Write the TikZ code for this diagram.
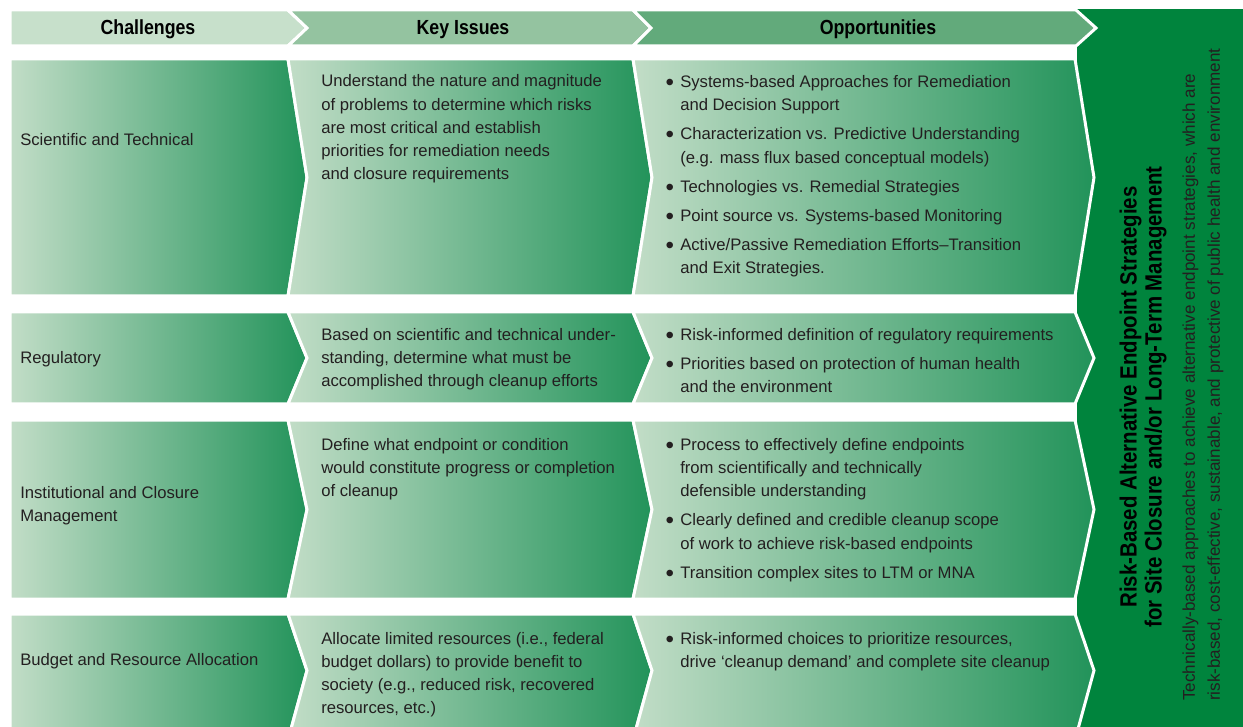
\documentclass[tikz,border=0pt]{standalone}
\usepackage{fontspec}
\setmainfont{Liberation Sans}
\newfontfamily\hdfont{Liberation Sans}[FakeStretch=0.87]
\definecolor{pale}{HTML}{C2DDC7}
\definecolor{deep}{HTML}{22935A}
\definecolor{hA}{HTML}{C7E0CB}
\definecolor{hB}{HTML}{94C3A0}
\definecolor{hC}{HTML}{62AA7B}
\definecolor{panel}{HTML}{00843D}
\definecolor{ink}{HTML}{231F20}
\newcommand\firstl{\rule{0pt}{12pt}}
\newcommand\mybul{\makebox[10.5pt][l]{\hspace*{-0.5pt}\raisebox{-0.17em}{\scalebox{1.45}{\textbullet}}}}
\newcommand\myind{\hspace*{10.5pt}}
\begin{document}
\begin{tikzpicture}[x={(0.75pt,0)}, y={(0,-0.75pt)},
  chev/.style={left color=pale, right color=deep, draw=white, line width=2.25pt},
  hdr/.style={draw=white, line width=2.25pt},
  cell/.style={anchor=north west, inner sep=0pt, align=left, text=ink, font=\fontsize{12.5pt}{17.4pt}\selectfont},
  hdtext/.style={anchor=base, inner sep=0pt, text=black, font=\hdfont\bfseries\fontsize{15.3pt}{18pt}\selectfont},
]
\useasboundingbox (0,0) rectangle (1243,727);
% right panel
\fill[panel] (1077,9) rectangle (1250,740);
% header
\path[hdr, fill=hA] (10,10) -- (288,10) -- (307,28) -- (288,46) -- (10,46) -- cycle;
\path[hdr, fill=hB] (288,10) -- (633,10) -- (651,28) -- (633,46) -- (288,46) -- (307,28) -- cycle;
\path[hdr, fill=hC] (633,10) -- (1076,10) -- (1096,28) -- (1076,46) -- (633,46) -- (651,28) -- cycle;
\node[hdtext] (hc) at (148,35) {Challenges};
\node[hdtext] (hk) at (463,35) {Key Issues};
\node[hdtext] (ho) at (878,35) {Opportunities};
% rows
\foreach \t/\b/\m in {59/296/177.5, 312/404/358, 420/599/509.5, 614/740/670.5} {
  \path[chev] (10,\t) -- (288,\t) -- (307,\m) -- (288,\b) -- (10,\b) -- cycle;
  \path[chev] (288,\t) -- (633,\t) -- (652,\m) -- (633,\b) -- (288,\b) -- (307,\m) -- cycle;
  \path[chev] (633,\t) -- (1075,\t) -- (1094,\m) -- (1075,\b) -- (633,\b) -- (652,\m) -- cycle;
}
% column 1
\node[cell] (c1) at (20,129) {\firstl Scientific and Technical};
\node[cell] (c2) at (20,347) {\firstl Regulatory};
\node[cell] (c3) at (20,482) {\firstl Institutional and Closure\\ Management};
\node[cell] (c4) at (20,649) {\firstl Budget and Resource Allocation};
% column 2
\node[cell] (k1) at (321,70.7) {\firstl Understand the nature and magnitude\\ of problems to determine which risks\\ are most critical and establish\\ priorities for remediation needs\\ and closure requirements};
\node[cell] (k2) at (321,324) {\firstl Based on scientific and technical under-\\ standing, determine what must be\\ accomplished through cleanup efforts};
\node[cell] (k3) at (321,434) {\firstl Define what endpoint or condition\\ would constitute progress or completion\\ of cleanup};
\node[cell] (k4) at (321,628) {\firstl Allocate limited resources (i.e., federal\\ budget dollars) to provide benefit to\\ society (e.g., reduced risk, recovered\\ resources, etc.)};
% column 3
\node[cell] (o1) at (666,71.3) {\firstl\mybul Systems-based Approaches for Remediation\\ \myind and Decision Support\\[4.5pt] \mybul Characterization vs. Predictive Understanding\\ \myind (e.g. mass flux based conceptual models)\\[4.5pt] \mybul Technologies vs. Remedial Strategies\\[4.5pt] \mybul Point source vs. Systems-based Monitoring\\[4.5pt] \mybul Active/Passive Remediation Efforts--Transition\\ \myind and Exit Strategies.};
\node[cell] (o2) at (666,324) {\firstl\mybul Risk-informed definition of regulatory requirements\\[4.5pt] \mybul Priorities based on protection of human health\\ \myind and the environment};
\node[cell] (o3) at (666,434) {\firstl\mybul Process to effectively define endpoints\\ \myind from scientifically and technically\\ \myind defensible understanding\\[4.5pt] \mybul Clearly defined and credible cleanup scope\\ \myind of work to achieve risk-based endpoints\\[4.5pt] \mybul Transition complex sites to LTM or MNA};
\node[cell] (o4) at (666,628) {\firstl\mybul Risk-informed choices to prioritize resources,\\ \myind drive `cleanup demand' and complete site cleanup};
% panel texts
\node[rotate=90, align=center, inner sep=0pt, text=black, font=\hdfont\bfseries\fontsize{17.6pt}{18.75pt}\selectfont] (title) at (1143,397) {Risk-Based Alternative Endpoint Strategies\\ for Site Closure and/or Long-Term Management};
\node[rotate=90, anchor=west, align=left, inner sep=0pt, text=ink, font=\fontsize{12.8pt}{18.75pt}\selectfont] (sub) at (1203,701) {Technically-based approaches to achieve alternative endpoint strategies, which are\\ risk-based, cost-effective, sustainable, and protective of public health and environment};
\end{tikzpicture}
\end{document}
